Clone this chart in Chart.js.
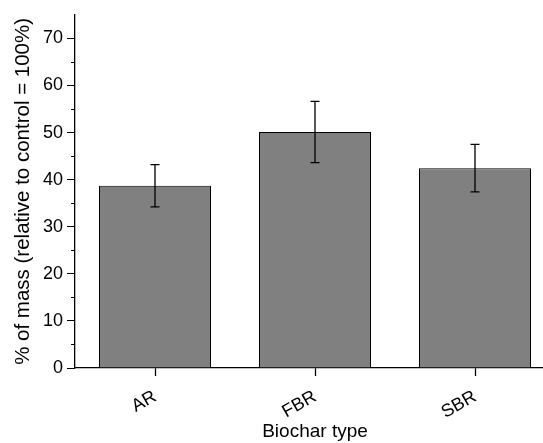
<!DOCTYPE html>
<html>
<head>
<meta charset="utf-8">
<script src="https://cdn.jsdelivr.net/npm/chart.js@4"></script>
<style>
html,body{margin:0;padding:0;background:#fff;overflow:hidden;}
#wrap{width:556px;height:443px;}
</style>
</head>
<body>
<div id="wrap"><canvas id="c" width="556" height="443"></canvas></div>
<script>
const categories = ["AR", "FBR", "SBR"];
const meanValues = [38.7, 50.1, 42.4];
const errUpper = [43.2, 56.6, 47.5];
const errLower = [34.2, 43.6, 37.4];
const yTickLabels = ["0", "10", "20", "30", "40", "50", "60", "70"];

const FONT = "'Liberation Sans', Arial, sans-serif";

const errorBarPlugin = {
  id: 'errorBars',
  afterDatasetsDraw(chart) {
    const ctx = chart.ctx;
    const x = chart.scales.x, y = chart.scales.y;
    ctx.save();
    ctx.strokeStyle = '#000';
    ctx.lineWidth = 1.3;
    categories.forEach((c, i) => {
      const px = x.getPixelForValue(i);
      const yt = y.getPixelForValue(errUpper[i]);
      const yb = y.getPixelForValue(errLower[i]);
      ctx.beginPath();
      ctx.moveTo(px, yt); ctx.lineTo(px, yb);
      ctx.moveTo(px - 4.5, yt); ctx.lineTo(px + 4.5, yt);
      ctx.moveTo(px - 4.5, yb); ctx.lineTo(px + 4.5, yb);
      ctx.stroke();
    });
    ctx.restore();
  }
};

const minorTickPlugin = {
  id: 'minorTicks',
  afterDraw(chart) {
    const ctx = chart.ctx;
    const y = chart.scales.y;
    const left = chart.chartArea.left;
    ctx.save();
    ctx.strokeStyle = '#000';
    ctx.lineWidth = 1;
    for (let v = 5; v < 75; v += 10) {
      const py = Math.round(y.getPixelForValue(v)) + 0.5;
      ctx.beginPath();
      ctx.moveTo(left - 4, py); ctx.lineTo(left, py);
      ctx.stroke();
    }
    ctx.restore();
  }
};

new Chart(document.getElementById('c'), {
  type: 'bar',
  data: {
    labels: categories,
    datasets: [{
      data: meanValues,
      backgroundColor: '#808080',
      borderColor: '#000',
      borderWidth: 1,
      categoryPercentage: 0.7,
      barPercentage: 1.0
    }]
  },
  options: {
    responsive: false,
    animation: false,
    devicePixelRatio: 1,
    layout: { padding: { top: 13, right: 1, left: 0, bottom: 0 } },
    plugins: { legend: { display: false }, tooltip: { enabled: false } },
    scales: {
      x: {
        grid: { display: true, offset: false, drawOnChartArea: false, tickLength: 8, color: '#000', tickColor: '#000', tickWidth: 1.3 },
        border: { display: true, color: '#000', width: 1.3 },
        ticks: { color: '#000', font: { family: FONT, size: 18 }, minRotation: 30, maxRotation: 30, padding: 10 },
        title: { display: true, text: 'Biochar type', color: '#000', font: { family: FONT, size: 19 }, padding: { top: 0, bottom: 0 } },
        afterFit(s) { s.height = 75; }
      },
      y: {
        min: 0, max: 75,
        grid: { display: true, drawOnChartArea: false, tickLength: 8, tickColor: (c) => (c.tick && c.tick.value % 10 === 0) ? '#000' : 'rgba(0,0,0,0)', tickWidth: 1 },
        border: { display: true, color: '#000', width: 1.3 },
        ticks: {
          stepSize: 10,
          color: '#000',
          font: { family: FONT, size: 18 },
          padding: 4,
          callback: (v) => { const i = v / 10; return Number.isInteger(i) && yTickLabels[i] !== undefined ? yTickLabels[i] : ''; }
        },
        title: { display: true, text: '% of mass (relative to control = 100%)', color: '#000', font: { family: FONT, size: 20.5 }, padding: { top: 11, bottom: 0 } },
        afterFit(s) { s.width = 75; }
      }
    }
  },
  plugins: [errorBarPlugin, minorTickPlugin]
});
</script>
</body>
</html>
